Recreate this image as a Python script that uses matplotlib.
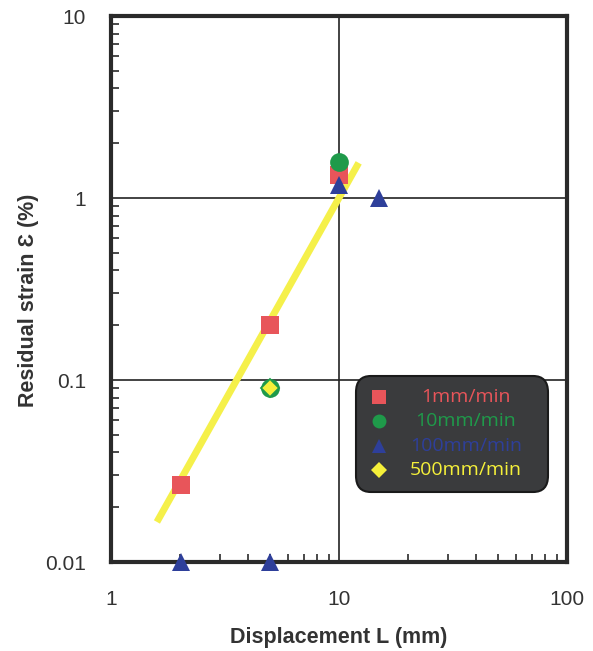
import numpy as np
import matplotlib.pyplot as plt
from matplotlib.patches import FancyBboxPatch
from matplotlib.ticker import LogLocator, NullFormatter, FixedLocator

# data
x_1mm = [2.03, 5.0, 10.0]
y_1mm = [0.0265, 0.20, 1.34]
x_10mm = [5.0, 10.0]
y_10mm = [0.090, 1.58]
x_100mm = [2.03, 5.0, 10.0, 15.0]
y_100mm = [0.010, 0.010, 1.18, 1.0]
x_500mm = [5.0]
y_500mm = [0.090]
fit_x = [1.59, 12.2]
fit_y = [0.0166, 1.56]

labels = ['1mm/min', '10mm/min', '100mm/min', '500mm/min']
colors = ['#e8555a', '#1f9a4a', '#2e3f9a', '#f5f03a']

plt.rcParams['font.family'] = ['Liberation Sans', 'DejaVu Sans']

fig = plt.figure(figsize=(5.93, 6.51), dpi=100)
ax = fig.add_axes([111/593, 1-562/651, 456/593, 546/651])
ax.set_xscale('log')
ax.set_yscale('log')
ax.set_xlim(1, 100)
ax.set_ylim(0.01, 10)

# grid lines
ax.axvline(10, color='#222222', lw=1.2, zorder=1)
ax.axhline(1, color='#222222', lw=1.2, zorder=1)
ax.axhline(0.1, color='#222222', lw=1.2, zorder=1)

ax.plot(fit_x, fit_y, color='#f5f04a', lw=5, solid_capstyle='butt', zorder=2)

ms = 13.5
ax.plot(x_1mm, y_1mm, 's', color=colors[0], ms=ms, mew=0, zorder=3)
ax.plot(x_10mm, y_10mm, 'o', color=colors[1], ms=ms, mew=0, zorder=3)
ax.plot(x_100mm, y_100mm, '^', color=colors[2], ms=ms, mew=0, zorder=4, clip_on=False)
ax.plot(x_500mm, y_500mm, 'D', color=colors[3], ms=ms-4, mec=colors[1], mew=1.3, zorder=5)

for s in ax.spines.values():
    s.set_linewidth(3)
    s.set_color('#2a2a2a')

ax.xaxis.set_major_locator(FixedLocator([1, 10, 100]))
ax.yaxis.set_major_locator(FixedLocator([0.01, 0.1, 1, 10]))
ax.set_xticklabels(['1', '10', '100'])
ax.set_yticklabels(['0.01', '0.1', '1', '10'])
ax.xaxis.set_minor_locator(LogLocator(base=10, subs=np.arange(2, 10)))
ax.yaxis.set_minor_locator(LogLocator(base=10, subs=np.arange(2, 10)))
ax.xaxis.set_minor_formatter(NullFormatter())
ax.yaxis.set_minor_formatter(NullFormatter())
ax.tick_params(which='major', length=0, labelsize=15, labelcolor='#333333')
ax.tick_params(axis='x', which='major', pad=20)
ax.tick_params(axis='y', which='major', pad=18)
ax.tick_params(which='minor', direction='in', length=6, width=1.2, color='#2a2a2a')

ax.set_xlabel('Displacement L (mm)', fontsize=15.5, fontweight='bold', color='#333333')
ax.set_ylabel('Residual strain Ɛ (%)', fontsize=15.5, fontweight='bold', color='#333333')
ax.xaxis.set_label_coords(0.5, -0.119)
ax.yaxis.set_label_coords(-0.158, 0.48)

# legend box
box = FancyBboxPatch((356/593, 1-492/651), 192/593, 116/651,
                     boxstyle='round,pad=0,rounding_size=0.025',
                     transform=fig.transFigure, facecolor='#3a3b3d',
                     edgecolor='#1a1a1a', lw=1.5, zorder=10)
fig.patches.append(box)
mk = ['s', 'o', '^', 'D']
for i in range(4):
    yy = 1 - (397 + i * 24.3) / 651
    fig.lines.append(plt.Line2D([379/593], [yy], marker=mk[i], color=colors[i],
                                ms=10 if i < 3 else 8, mew=0, transform=fig.transFigure, zorder=11))
    fig.text(466/593, yy, labels[i], color=colors[i], fontsize=14,
             va='center', ha='center', zorder=11, family=['Open Sans', 'DejaVu Sans'])

fig.savefig('out.png', dpi=100)
